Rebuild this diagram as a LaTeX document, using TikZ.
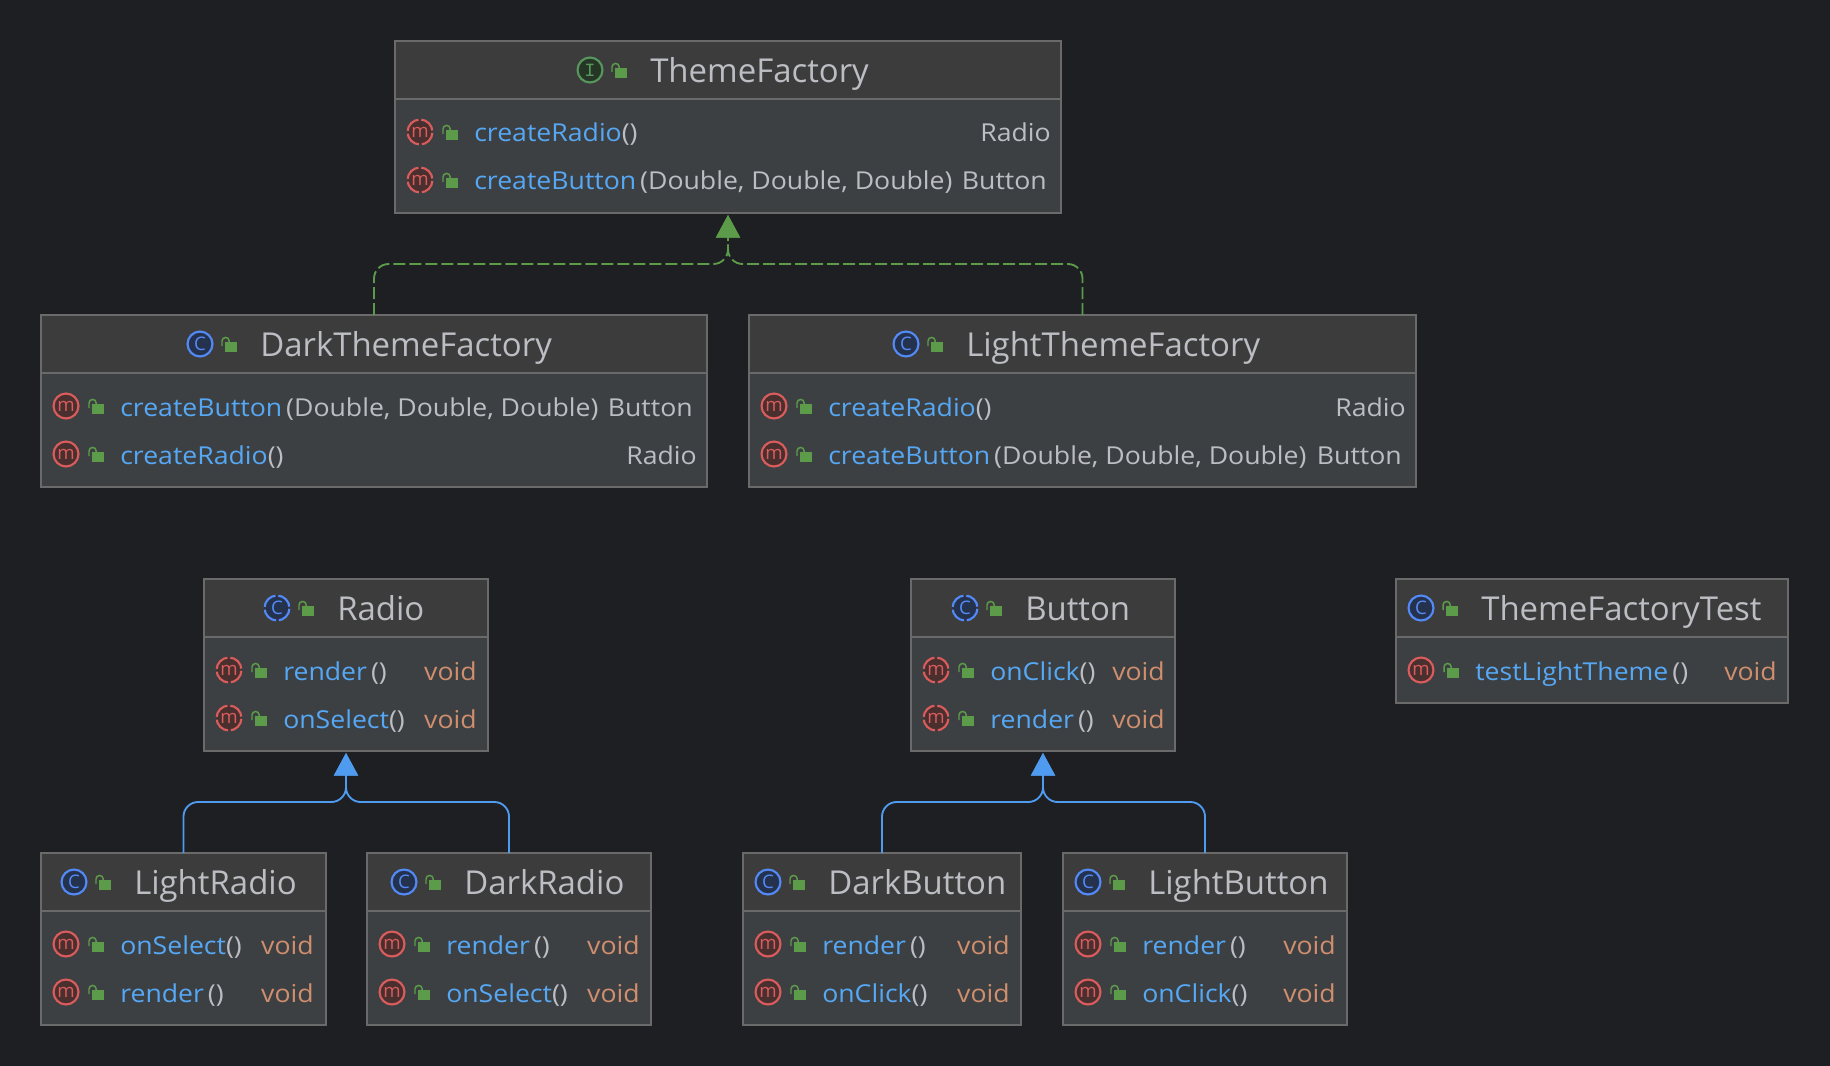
\documentclass[tikz,border=0pt]{standalone}
\usepackage{fontspec}
\setmainfont{Open Sans}
\newfontfamily\rowfont[FakeStretch=1.08]{Open Sans}
\newfontfamily\iconmono{Liberation Mono}
\usetikzlibrary{arrows.meta,fit}
\definecolor{canvasbg}{HTML}{1E1F22}
\definecolor{headfill}{HTML}{3C3C3C}
\definecolor{bodyfill}{HTML}{3D4043}
\definecolor{boxline}{HTML}{6A6A6A}
\definecolor{plaintext}{HTML}{BCBEC4}
\definecolor{methodblue}{HTML}{56A8F5}
\definecolor{voidorange}{HTML}{CF8E6D}
\definecolor{lockgreen}{HTML}{5C9B4A}
\definecolor{ifacering}{HTML}{57965C}
\definecolor{ifacefill}{HTML}{253627}
\definecolor{classring}{HTML}{548AF7}
\definecolor{classfill}{HTML}{25324D}
\definecolor{methodring}{HTML}{DB5C5C}
\definecolor{methodfill}{HTML}{49302F}
\definecolor{inheritblue}{HTML}{4F9BEF}
\tikzset{
  bodybox/.style={rectangle,draw=boxline,line width=1.1pt,fill=bodyfill,inner sep=0pt,outer sep=0pt},
  headbox/.style={draw=boxline,line width=1.1pt,fill=headfill},
  titletext/.style={anchor=base west,inner sep=0pt,text=plaintext,font=\fontsize{24.7}{28}\selectfont},
  rowtext/.style={anchor=base west,inner sep=0pt,text=plaintext,font=\rowfont\fontsize{18.5}{21}\selectfont},
  rettext/.style={anchor=base east,inner sep=0pt,font=\rowfont\fontsize{18.5}{21}\selectfont},
  roundicon/.style={circle,inner sep=0pt,outer sep=0pt,minimum size=18.7pt,line width=1.6pt,font=\fontsize{14}{15}\selectfont},
  ifaceicon/.style={roundicon,draw=ifacering,fill=ifacefill,text=ifacering,font=\iconmono\fontsize{14}{15}\selectfont},
  classicon/.style={roundicon,draw=classring,fill=classfill,text=classring},
  methodicon/.style={roundicon,draw=methodring,fill=methodfill,text=methodring},
  notched/.style={dash pattern=on 12.5pt off 2.2pt,dash phase=13.6pt},
  implementsline/.style={draw=lockgreen,line width=1.4pt,dash pattern=on 9pt off 3pt,rounded corners=11pt,-{Triangle[length=17pt,width=18pt,fill=lockgreen]},shorten >=1.5pt},
  extendsline/.style={draw=inheritblue,line width=1.4pt,rounded corners=11pt,-{Triangle[length=17pt,width=18pt,fill=inheritblue]},shorten >=1.5pt},
  lockicon/.pic={
    \fill[lockgreen] (-5,-2) rectangle (7,8);
    \draw[lockgreen,line width=1.1pt] (-8,2) -- (-8,-3) arc[start angle=180,end angle=0,radius=2.7pt] -- (-1,-1);
  }
}
\newcommand{\argsgap}{\hspace{0.16em}}
% id, left, top, right, bottom
\newcommand{\classbox}[5]{
  \node[bodybox,fit={(#2,#3) (#4,#5)}] (#1) {};
  \draw[headbox] (#1.north west) rectangle ([yshift=-43.5pt]#1.north east);
}
% id, icon style, letter, icon offset from left, title
\newcommand{\classhead}[5]{
  \node[#2] (#1-icon) at ([shift={(#4,29)}]#1.north west) {#3};
  \pic at ([shift={(#4+30,29)}]#1.north west) {lockicon};
  \node[titletext] (#1-title) at ([shift={(#4+60,41.5)}]#1.north west) {#5};
}
% id, row, icon style, name, args, return, return colour, right inset
\newcommand{\methodrow}[8]{
  \node[methodicon,#3] (#1-#2-icon) at ([shift={(25,43+48*#2)}]#1.north west) {m};
  \pic at ([shift={(56,43+48*#2)}]#1.north west) {lockicon};
  \node[rowtext] (#1-#2-name) at ([shift={(79,53+48*#2)}]#1.north west) {\textcolor{methodblue}{#4}#5};
  \node[rettext,text=#7] (#1-#2-ret) at ([shift={(-#8,53+48*#2)}]#1.north east) {#6};
}
\begin{document}
\begin{tikzpicture}[x=0.75pt,y=-0.75pt]
  \useasboundingbox[fill=canvasbg] (0,0) rectangle (1830,1066);

  \classbox{ThemeFactory}{395}{41}{1061}{213}
  \classhead{ThemeFactory}{ifaceicon}{I}{195}{ThemeFactory}
  \methodrow{ThemeFactory}{1}{notched}{createRadio}{()}{Radio}{plaintext}{10}
  \methodrow{ThemeFactory}{2}{notched}{createButton}{\argsgap(Double, Double, Double)}{Button}{plaintext}{14}

  \classbox{DarkThemeFactory}{41}{315}{707}{487}
  \classhead{DarkThemeFactory}{classicon}{C}{159}{DarkThemeFactory}
  \methodrow{DarkThemeFactory}{1}{}{createButton}{\argsgap(Double, Double, Double)}{Button}{plaintext}{14}
  \methodrow{DarkThemeFactory}{2}{}{createRadio}{()}{Radio}{plaintext}{10}

  \classbox{LightThemeFactory}{749}{315}{1416}{487}
  \classhead{LightThemeFactory}{classicon}{C}{157}{LightThemeFactory}
  \methodrow{LightThemeFactory}{1}{}{createRadio}{()}{Radio}{plaintext}{10}
  \methodrow{LightThemeFactory}{2}{}{createButton}{\argsgap(Double, Double, Double)}{Button}{plaintext}{14}

  \classbox{Radio}{204}{579}{488}{751}
  \classhead{Radio}{classicon,notched}{C}{73}{Radio}
  \methodrow{Radio}{1}{notched}{render}{\argsgap()}{void}{voidorange}{11}
  \methodrow{Radio}{2}{notched}{onSelect}{()}{void}{voidorange}{11}

  \classbox{Button}{911}{579}{1175}{751}
  \classhead{Button}{classicon,notched}{C}{54}{Button}
  \methodrow{Button}{1}{notched}{onClick}{()}{void}{voidorange}{10}
  \methodrow{Button}{2}{notched}{render}{\argsgap()}{void}{voidorange}{10}

  \classbox{ThemeFactoryTest}{1396}{579}{1788}{703}
  \classhead{ThemeFactoryTest}{classicon}{C}{25}{ThemeFactoryTest}
  \methodrow{ThemeFactoryTest}{1}{}{testLightTheme}{\argsgap()}{void}{voidorange}{11}

  \classbox{LightRadio}{41}{853}{326}{1025}
  \classhead{LightRadio}{classicon}{C}{33}{LightRadio}
  \methodrow{LightRadio}{1}{}{onSelect}{()}{void}{voidorange}{12}
  \methodrow{LightRadio}{2}{}{render}{\argsgap()}{void}{voidorange}{12}

  \classbox{DarkRadio}{367}{853}{651}{1025}
  \classhead{DarkRadio}{classicon}{C}{37}{DarkRadio}
  \methodrow{DarkRadio}{1}{}{render}{\argsgap()}{void}{voidorange}{11}
  \methodrow{DarkRadio}{2}{}{onSelect}{()}{void}{voidorange}{11}

  \classbox{DarkButton}{743}{853}{1021}{1025}
  \classhead{DarkButton}{classicon}{C}{25}{DarkButton}
  \methodrow{DarkButton}{1}{}{render}{\argsgap()}{void}{voidorange}{11}
  \methodrow{DarkButton}{2}{}{onClick}{()}{void}{voidorange}{11}

  \classbox{LightButton}{1063}{853}{1347}{1025}
  \classhead{LightButton}{classicon}{C}{25}{LightButton}
  \methodrow{LightButton}{1}{}{render}{\argsgap()}{void}{voidorange}{11}
  \methodrow{LightButton}{2}{}{onClick}{()}{void}{voidorange}{11}

  \coordinate (themeMerge) at (ThemeFactory.south |- 0,264);
  \coordinate (radioMerge) at (Radio.south |- 0,802);
  \coordinate (buttonMerge) at (Button.south |- 0,802);
  \draw[implementsline] (DarkThemeFactory.north) |- (themeMerge) -- (ThemeFactory.south);
  \draw[implementsline] (LightThemeFactory.north) |- (themeMerge) -- (ThemeFactory.south);
  \draw[extendsline] (LightRadio.north) |- (radioMerge) -- (Radio.south);
  \draw[extendsline] (DarkRadio.north) |- (radioMerge) -- (Radio.south);
  \draw[extendsline] (DarkButton.north) |- (buttonMerge) -- (Button.south);
  \draw[extendsline] (LightButton.north) |- (buttonMerge) -- (Button.south);
\end{tikzpicture}
\end{document}
